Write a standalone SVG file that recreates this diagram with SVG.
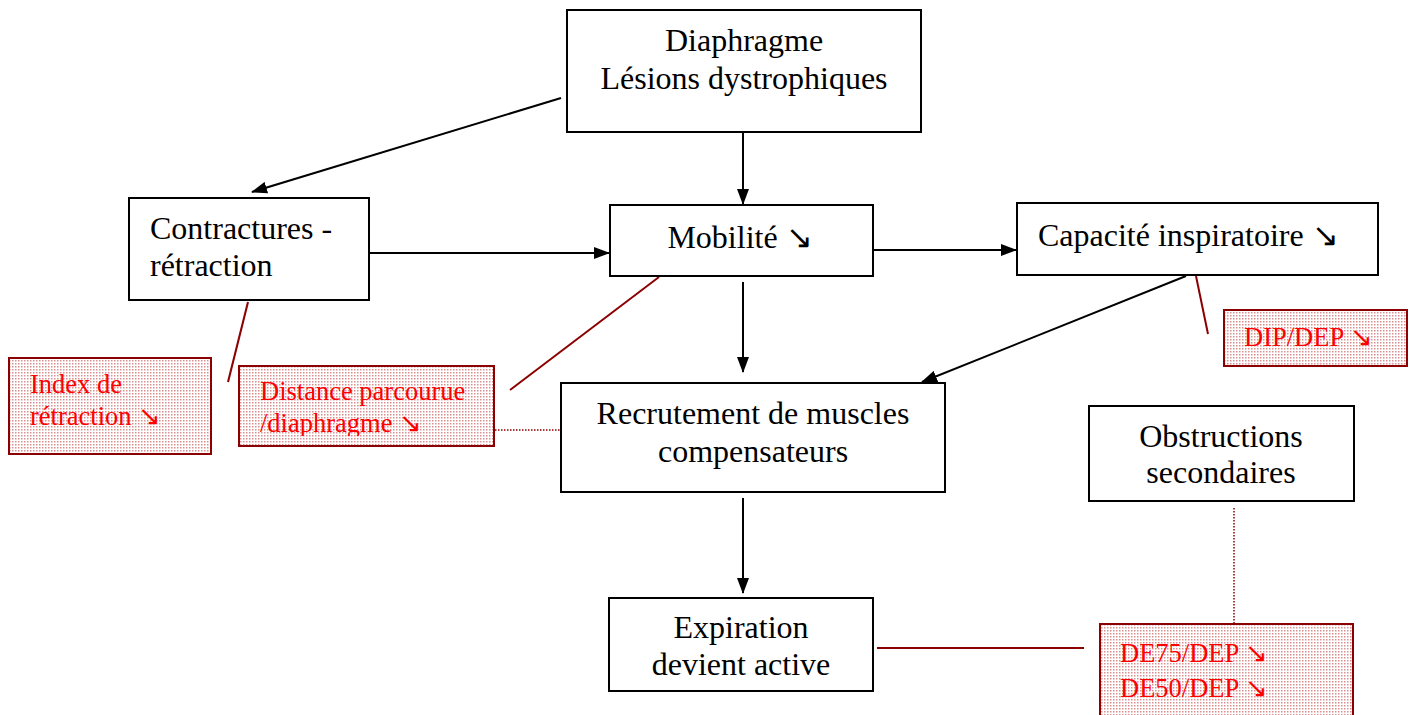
<svg xmlns="http://www.w3.org/2000/svg" width="1411" height="715" viewBox="0 0 1411 715">
<style>
.box{fill:#fff;stroke:#000;stroke-width:2}
.rbox{fill:url(#dots);stroke:#8b0000;stroke-width:2}
.t{font-family:"Liberation Serif","Times New Roman",serif;font-size:32px;fill:#000}
.r{font-family:"Liberation Serif","Times New Roman",serif;font-size:26.5px;fill:#ff0000}
.c{text-anchor:middle}
.arr{stroke:#000;stroke-width:2;fill:none;marker-end:url(#ah)}
.rl{stroke:#8b0000;stroke-width:2;fill:none}
.rd{stroke:#8b0000;stroke-width:1.5;fill:none;stroke-dasharray:1.5 1.5}
</style>
<defs>
<pattern id="dots" width="3" height="3" patternUnits="userSpaceOnUse">
<rect width="3" height="3" fill="#fff"/>
<rect width="1.5" height="1.5" fill="#d89090"/>
</pattern>
<marker id="ah" markerWidth="16" markerHeight="12" refX="15" refY="6" orient="auto" markerUnits="userSpaceOnUse">
<path d="M0,0 L16,6 L0,12 Z" fill="#000"/>
</marker>
<clipPath id="clipDist"><rect x="240" y="367" width="253" height="69"/></clipPath>
</defs>
<g id="connectors">
<line class="arr" x1="561" y1="98" x2="252" y2="192"/>
<line class="arr" x1="743" y1="133" x2="743" y2="204"/>
<line class="arr" x1="370" y1="253" x2="609" y2="253"/>
<line class="arr" x1="873" y1="250" x2="1016" y2="250"/>
<line class="arr" x1="743" y1="282" x2="743" y2="372"/>
<line class="arr" x1="1186" y1="276" x2="922" y2="382"/>
<line class="arr" x1="743" y1="498" x2="743" y2="593"/>
<line class="rl" x1="248" y1="302" x2="228" y2="382"/>
<line class="rl" x1="659" y1="277" x2="510" y2="390"/>
<line class="rd" x1="495" y1="430" x2="561" y2="430"/>
<line class="rl" x1="1196" y1="276" x2="1208" y2="334"/>
<line class="rl" x1="877" y1="648" x2="1084" y2="648"/>
<line class="rd" x1="1234" y1="508" x2="1234" y2="623"/>
</g>
<g id="diaphragme">
<rect class="box" x="567" y="10" width="354" height="122"/>
<text class="t c" x="744" y="51">Diaphragme</text>
<text class="t c" x="744" y="89">Lésions dystrophiques</text>
</g>
<g id="contractures">
<rect class="box" x="129" y="198" width="240" height="102"/>
<text class="t" x="150" y="239">Contractures -</text>
<text class="t" x="150" y="276">rétraction</text>
</g>
<g id="mobilite">
<rect class="box" x="610" y="205" width="263" height="71"/>
<text class="t c" x="740" y="248">Mobilité ↘</text>
</g>
<g id="capacite">
<rect class="box" x="1017" y="203" width="361" height="72"/>
<text class="t" x="1038" y="246">Capacité inspiratoire  ↘</text>
</g>
<g id="recrutement">
<rect class="box" x="561" y="383" width="384" height="109"/>
<text class="t c" x="753" y="424">Recrutement de muscles</text>
<text class="t c" x="753" y="462">compensateurs</text>
</g>
<g id="obstructions">
<rect class="box" x="1089" y="406" width="265" height="95"/>
<text class="t c" x="1221" y="447">Obstructions</text>
<text class="t c" x="1221" y="483">secondaires</text>
</g>
<g id="expiration">
<rect class="box" x="609" y="598" width="264" height="93"/>
<text class="t c" x="741" y="638">Expiration</text>
<text class="t c" x="741" y="675">devient active</text>
</g>
<g id="index">
<rect class="rbox" x="9" y="358" width="202" height="96"/>
<text class="r" x="30" y="393">Index de</text>
<text class="r" x="30" y="425">rétraction ↘</text>
</g>
<g id="distance">
<rect class="rbox" x="239" y="366" width="255" height="80"/>
<g clip-path="url(#clipDist)">
<text class="r" x="260" y="400">Distance parcourue</text>
<text class="r" x="260" y="432">/diaphragme ↘</text>
</g>
</g>
<g id="dipdep">
<rect class="rbox" x="1224" y="310" width="183" height="56"/>
<text class="r" x="1244" y="346">DIP/DEP ↘</text>
</g>
<g id="de75">
<rect class="rbox" x="1100" y="624" width="253" height="100"/>
<text class="r" x="1120" y="662">DE75/DEP ↘</text>
<text class="r" x="1120" y="697">DE50/DEP  ↘</text>
</g>
</svg>
